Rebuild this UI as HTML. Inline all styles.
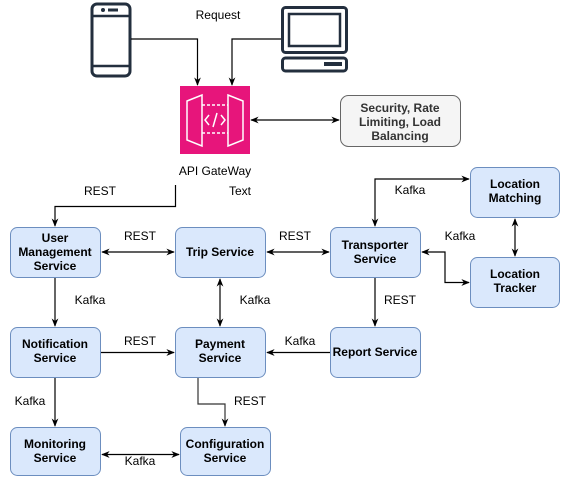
<!DOCTYPE html>
<html><head><meta charset="utf-8"><style>
html,body{margin:0;padding:0;background:#fff;}
svg{display:block;font-family:"Liberation Sans",Arial,sans-serif;}
.b{fill:#dae8fc;stroke:#6c8ebf;stroke-width:1;}
.t{font-size:12px;font-weight:bold;fill:#000;text-anchor:middle;}
.l{font-size:12px;fill:#000;text-anchor:middle;}
.c{fill:none;stroke:#000;stroke-width:1.2;}
</style></head><body>
<svg width="561" height="477" viewBox="0 0 561 477" xmlns="http://www.w3.org/2000/svg">
<defs>
<marker id="a" viewBox="0 0 10 10" refX="9" refY="5" markerWidth="7" markerHeight="7" orient="auto-start-reverse"><path d="M0,1 L10,5 L0,9 L3,5 z" fill="#000"/></marker>
</defs>
<rect x="92" y="4" width="38" height="72" rx="5" fill="none" stroke="#232f3e" stroke-width="3"/>
<line x1="92" y1="16" x2="130" y2="16" stroke="#232f3e" stroke-width="2.5"/>
<line x1="92" y1="66" x2="130" y2="66" stroke="#232f3e" stroke-width="2.5"/>
<circle cx="103" cy="10" r="2" fill="#232f3e"/><rect x="108" y="8.5" width="10" height="3" fill="#232f3e"/>
<rect x="282.5" y="7.5" width="64" height="45" rx="3" fill="none" stroke="#232f3e" stroke-width="3"/>
<rect x="289" y="14" width="51" height="32" fill="none" stroke="#232f3e" stroke-width="2.5"/>
<rect x="282.5" y="58" width="64" height="13" rx="3" fill="none" stroke="#232f3e" stroke-width="3"/>
<rect x="324" y="62" width="18" height="4" fill="#232f3e"/>
<text x="218" y="19" class="l">Request</text>
<rect x="180" y="86" width="70" height="68" fill="#e7157b"/>
<g fill="none" stroke="#fff" stroke-width="1.5">
<path d="M187,101 L202,95 L202,146 L187,140 Z"/>
<path d="M243,101 L228,95 L228,146 L243,140 Z"/>
<path d="M202,105 H228 M202,133 H228" stroke-dasharray="3,2"/>
<path d="M209,115 L205,120 L209,125 M221,115 L225,120 L221,125 M217,113 L213,127"/>
</g>
<text x="215" y="175" class="l">API GateWay</text>
<rect x="340.5" y="95.5" width="120" height="51" rx="8" fill="#f5f5f5" stroke="#666"/>
<text x="400" y="112" class="t" style="fill:#333">Security, Rate</text>
<text x="400" y="126" class="t" style="fill:#333">Limiting, Load</text>
<text x="400" y="140" class="t" style="fill:#333">Balancing</text>
<path class="c" d="M131,39 H197.5 V85" marker-end="url(#a)"/>
<path class="c" d="M281,39 H232 V85" marker-end="url(#a)"/>
<path class="c" d="M251,120 H339" marker-start="url(#a)" marker-end="url(#a)"/>
<path class="c" d="M175.5,185 V206.5 H55 V226" marker-end="url(#a)"/>
<text x="100" y="195" class="l">REST</text>
<text x="240" y="195" class="l">Text</text>
<rect class="b" x="10.5" y="227.5" width="90" height="50" rx="7"/>
<text class="t" x="55" y="242">User</text><text class="t" x="55" y="256">Management</text><text class="t" x="55" y="270">Service</text>
<rect class="b" x="175.5" y="227.5" width="90" height="50" rx="7"/>
<text class="t" x="220" y="256">Trip Service</text>
<rect class="b" x="330.5" y="227.5" width="90" height="50" rx="7"/>
<text class="t" x="375" y="249">Transporter</text><text class="t" x="375" y="263">Service</text>
<rect class="b" x="470.5" y="167.5" width="89" height="50" rx="7"/>
<text class="t" x="515" y="188">Location</text><text class="t" x="515" y="202">Matching</text>
<rect class="b" x="470.5" y="257.5" width="89" height="50" rx="7"/>
<text class="t" x="515" y="278">Location</text><text class="t" x="515" y="292">Tracker</text>
<rect class="b" x="10.5" y="327.5" width="90" height="50" rx="7"/>
<text class="t" x="55" y="348">Notification</text><text class="t" x="55" y="362">Service</text>
<rect class="b" x="175.5" y="327.5" width="90" height="50" rx="7"/>
<text class="t" x="220" y="348">Payment</text><text class="t" x="220" y="362">Service</text>
<rect class="b" x="330.5" y="327.5" width="90" height="50" rx="7"/>
<text class="t" x="375" y="356">Report Service</text>
<rect class="b" x="10.5" y="427.5" width="90" height="48" rx="7"/>
<text class="t" x="55" y="448">Monitoring</text><text class="t" x="55" y="462">Service</text>
<rect class="b" x="180.5" y="427.5" width="90" height="48" rx="7"/>
<text class="t" x="225" y="448">Configuration</text><text class="t" x="225" y="462">Service</text>
<path class="c" d="M102,252 H174" marker-start="url(#a)" marker-end="url(#a)"/>
<text x="140" y="240" class="l">REST</text>
<path class="c" d="M267,252 H329" marker-start="url(#a)" marker-end="url(#a)"/>
<text x="295" y="240" class="l">REST</text>
<path class="c" d="M375,226 V179 H469" marker-start="url(#a)" marker-end="url(#a)"/>
<text x="410" y="194" class="l">Kafka</text>
<path class="c" d="M422,252 H445 V282.5 H469" marker-start="url(#a)" marker-end="url(#a)"/>
<text x="460" y="240" class="l">Kafka</text>
<path class="c" d="M515,219 V256" marker-start="url(#a)" marker-end="url(#a)"/>
<path class="c" d="M55,278 V326" marker-end="url(#a)"/>
<text x="90" y="304" class="l">Kafka</text>
<path class="c" d="M220,279 V326" marker-start="url(#a)" marker-end="url(#a)"/>
<text x="255" y="304" class="l">Kafka</text>
<path class="c" d="M375,278 V326" marker-end="url(#a)"/>
<text x="400" y="304" class="l">REST</text>
<path class="c" d="M101,352.5 H174" marker-end="url(#a)"/>
<text x="140" y="345" class="l">REST</text>
<path class="c" d="M330,352.5 H267" marker-end="url(#a)"/>
<text x="300" y="345" class="l">Kafka</text>
<path class="c" d="M55,378 V426" marker-end="url(#a)"/>
<text x="30" y="405" class="l">Kafka</text>
<path class="c" d="M198,378 V404 H225 V426" marker-end="url(#a)" style="stroke:#333"/>
<text x="250" y="405" class="l">REST</text>
<path class="c" d="M102,454.5 H179" marker-start="url(#a)" marker-end="url(#a)"/>
<text x="140" y="465" class="l">Kafka</text>
</svg>
</body></html>
